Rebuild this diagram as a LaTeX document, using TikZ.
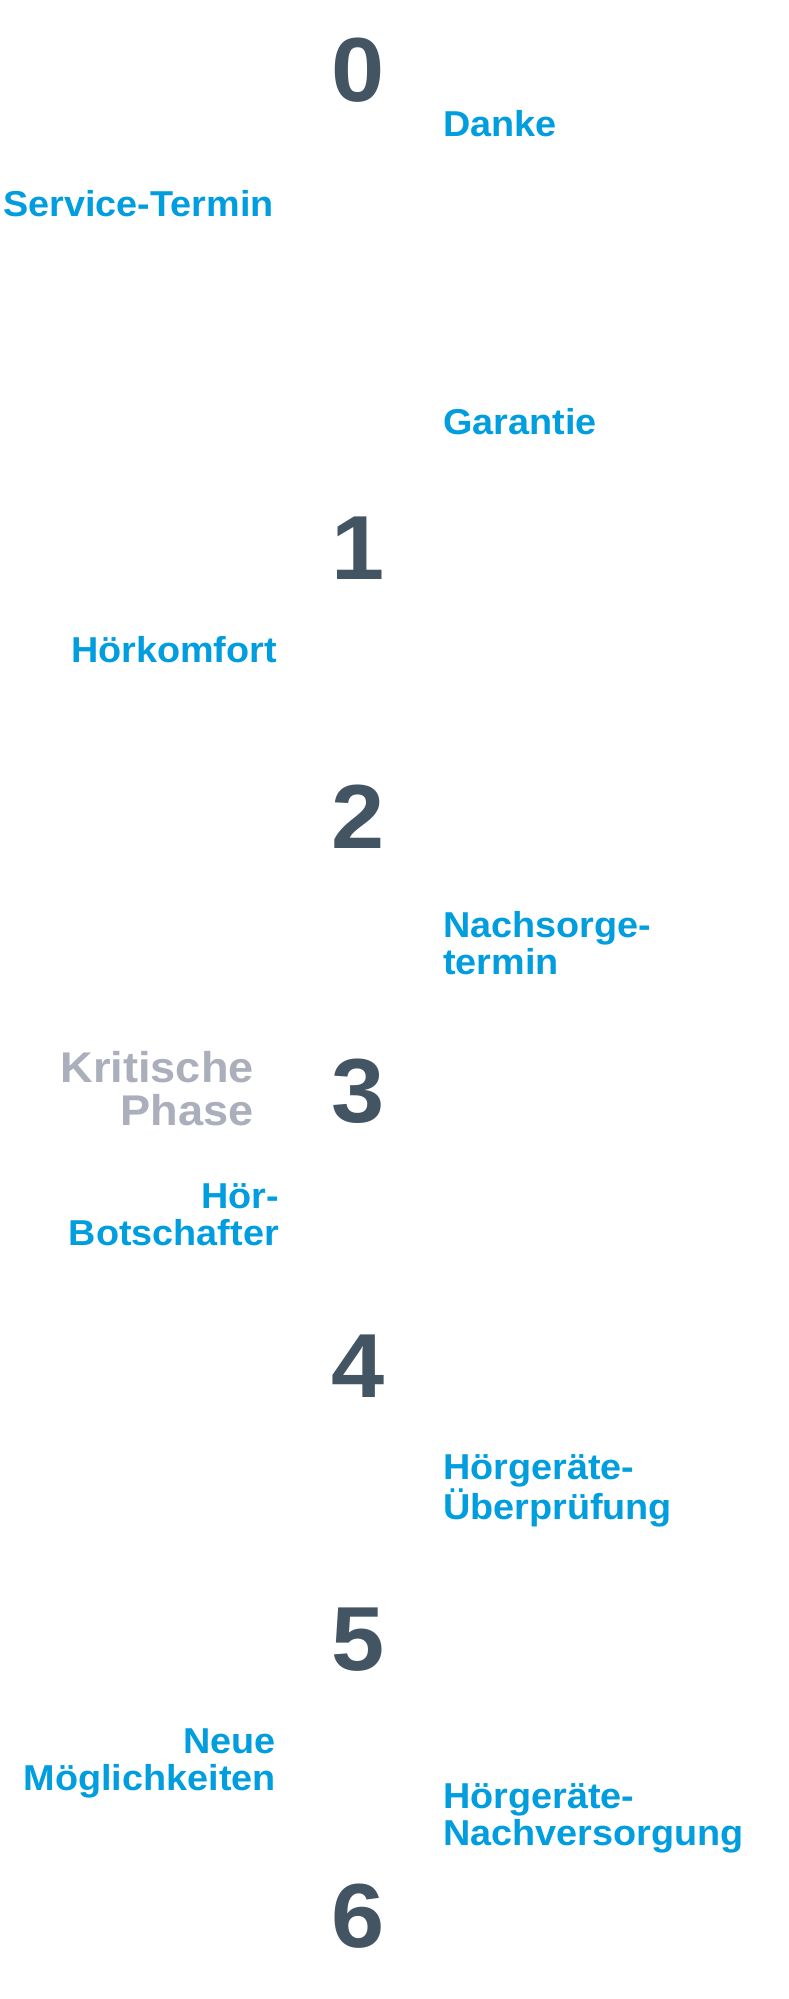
\documentclass[tikz,border=0pt]{standalone}
\usepackage{fontspec}
\setmainfont{Liberation Sans}[FakeStretch=1.05]
\definecolor{zahlgrau}{HTML}{435463}
\definecolor{hoerblau}{HTML}{009DDF}
\definecolor{phasegrau}{HTML}{ABAFBC}
\tikzset{
    ziffer/.style={font=\fontsize{91}{91}\selectfont\bfseries, text=zahlgrau, anchor=base, inner sep=0pt},
    stufe/.style={font=\fontsize{36}{37}\selectfont\bfseries, text=hoerblau, inner sep=0pt},
    stuferechts/.style={stufe, anchor=base west, align=left},
    stufelinks/.style={stufe, anchor=base east, align=right},
    phasetext/.style={font=\fontsize{43}{43}\selectfont\bfseries, text=phasegrau, inner sep=0pt, anchor=base east, align=right}
}
\begin{document}
\begin{tikzpicture}[x=1pt, y=-1pt]
        % --- 背景 ---
        \fill[white] (0,0) rectangle (788,1999);
        \useasboundingbox (0,0) rectangle (788,1999);

        % --- 数字 ---
        \foreach \n/\y in {0/102, 1/579, 2/848, 3/1122, 4/1397, 5/1670, 6/1947} {
            \node[ziffer] (z\n) at (358,\y) {\n};
        }

        % --- 右側 (最終行のベースライン) ---
        \node[stuferechts] (danke) at (443,137) {Danke};
        \node[stuferechts] (garantie) at (443,434) {Garantie};
        \node[stuferechts] (nachsorge) at (443,974) {Nachsorge-\\termin};
        \node[stuferechts] (pruefung) at (443,1519) {Hörgeräte-\\Überprüfung};
        \node[stuferechts] (versorgung) at (443,1845) {Hörgeräte-\\Nachversorgung};

        % --- 左側 ---
        \node[stufelinks] (service) at (274,216) {Service-Termin};
        \node[stufelinks] (komfort) at (277,662) {Hörkomfort};
        \node[phasetext] (kritisch) at (254,1125) {Kritische\\Phase};
        \node[stufelinks] (botschafter) at (279,1245) {Hör-\\Botschafter};
        \node[stufelinks] (moeglich) at (276,1790) {Neue\\Möglichkeiten};

    \end{tikzpicture}
\end{document}
